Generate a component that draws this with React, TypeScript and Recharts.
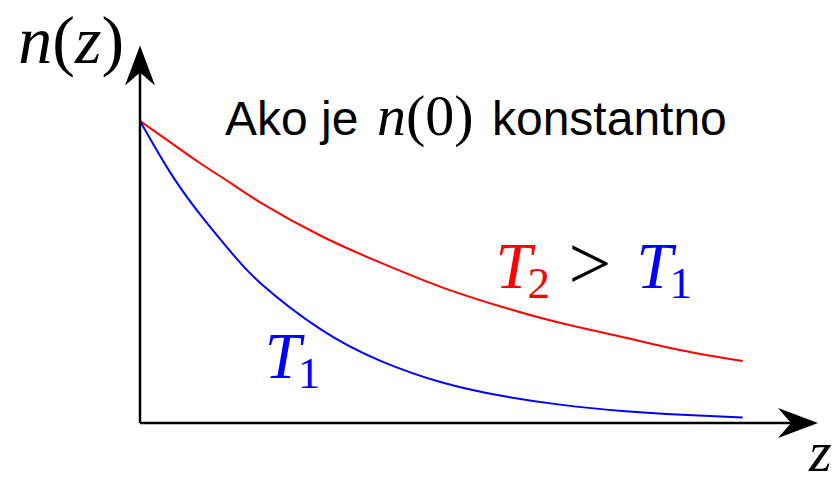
import { LineChart, Line, XAxis, YAxis, ReferenceLine, ReferenceDot } from "recharts";

// depth z (arbitrary units) and the two concentration profiles n(z)
const zValues = [0, 0.5, 1, 1.5, 2, 3, 4, 5, 6, 7, 8, 9, 10];
const nHot = [1.0, 0.93, 0.86, 0.795, 0.73, 0.62, 0.53, 0.45, 0.385, 0.33, 0.285, 0.24, 0.205]; // T2
const nCold = [1.0, 0.83, 0.69, 0.568, 0.463, 0.31, 0.205, 0.135, 0.09, 0.06, 0.04, 0.027, 0.018]; // T1

const data = zValues.map((z, i) => ({ z, hot: nHot[i], cold: nCold[i] }));

const X_MAX = 11.25;
const Y_MAX = 1.25;

const SERIF = "'Liberation Serif', 'Times New Roman', serif";
const SANS = "'Liberation Sans', Arial, sans-serif";

type Pt = { cx?: number; cy?: number };

const arrowRight = ({ cx = 0, cy = 0 }: Pt) => (
    <path d={`M${cx},${cy} L${cx - 40},${cy - 15} L${cx - 27},${cy} L${cx - 40},${cy + 15} Z`} fill="#000" />
);

const arrowUp = ({ cx = 0, cy = 0 }: Pt) => (
    <path d={`M${cx},${cy} L${cx - 15},${cy + 40} L${cx},${cy + 27} L${cx + 15},${cy + 40} Z`} fill="#000" />
);

const yTitle = ({ cx = 0, cy = 0 }: Pt) => (
    <text x={cx} y={cy} fontFamily={SERIF} fontSize={68} fill="#000">
        <tspan fontStyle="italic">n</tspan>
        <tspan>(</tspan>
        <tspan fontStyle="italic">z</tspan>
        <tspan>)</tspan>
    </text>
);

const xTitle = ({ cx = 0, cy = 0 }: Pt) => (
    <text x={cx} y={cy} fontFamily={SERIF} fontStyle="italic" fontSize={58} fill="#000">
        z
    </text>
);

const note = ({ cx = 0, cy = 0 }: Pt) => (
    <text y={cy} fontFamily={SANS} fontSize={48} fill="#000">
        <tspan x={cx}>Ako je</tspan>
        <tspan x={cx + 152} fontFamily={SERIF} fontStyle="italic" fontSize={58}>n</tspan>
        <tspan fontFamily={SERIF} fontSize={58}>(0)</tspan>
        <tspan x={cx + 267}>konstantno</tspan>
    </text>
);

const compare = ({ cx = 0, cy = 0 }: Pt) => (
    <text y={cy} fontFamily={SERIF} fontSize={65}>
        <tspan x={cx} fill="#ff0000" fontStyle="italic">T</tspan>
        <tspan x={cx + 32} fill="#ff0000" fontSize={45} dy={10}>2</tspan>
        <tspan x={cx + 73} fill="#000" fontSize={76} dy={-9}>&gt;</tspan>
        <tspan x={cx + 141} fill="#0000ff" fontStyle="italic" dy={-1}>T</tspan>
        <tspan x={cx + 174} fill="#0000ff" fontSize={45} dy={10}>1</tspan>
    </text>
);

const coldLabel = ({ cx = 0, cy = 0 }: Pt) => (
    <text y={cy} fontFamily={SERIF} fontSize={65} fill="#0000ff">
        <tspan x={cx} fontStyle="italic">T</tspan>
        <tspan x={cx + 33} fontSize={45} dy={10}>1</tspan>
    </text>
);

export default function App() {
    return (
        <div style={{ position: "absolute", left: 0, top: 0, width: 836, height: 477, background: "#fff" }}>
            <LineChart width={836} height={477} data={data} margin={{ top: 45.5, right: 18, bottom: 54, left: 140 }}>
                <XAxis type="number" dataKey="z" domain={[0, X_MAX]} hide />
                <YAxis type="number" domain={[0, Y_MAX]} hide />

                <Line type="natural" dataKey="hot" stroke="#ff0000" strokeWidth={2} dot={false} isAnimationActive={false} />
                <Line type="natural" dataKey="cold" stroke="#0000ff" strokeWidth={2} dot={false} isAnimationActive={false} />

                {/* axes with arrowheads */}
                <ReferenceLine segment={[{ x: 0, y: 0 }, { x: X_MAX - 0.4, y: 0 }]} stroke="#000" strokeWidth={2.5} ifOverflow="visible" />
                <ReferenceLine segment={[{ x: 0, y: 0 }, { x: 0, y: Y_MAX - 0.08 }]} stroke="#000" strokeWidth={2.5} ifOverflow="visible" />
                <ReferenceDot x={X_MAX} y={0} shape={arrowRight} ifOverflow="visible" />
                <ReferenceDot x={0} y={Y_MAX} shape={arrowUp} ifOverflow="visible" />

                {/* annotations */}
                <ReferenceDot x={-2.02} y={1.192} shape={yTitle} ifOverflow="visible" />
                <ReferenceDot x={11.1} y={-0.16} shape={xTitle} ifOverflow="visible" />
                <ReferenceDot x={1.41} y={0.954} shape={note} ifOverflow="visible" />
                <ReferenceDot x={5.9} y={0.447} shape={compare} ifOverflow="visible" />
                <ReferenceDot x={2.07} y={0.149} shape={coldLabel} ifOverflow="visible" />
            </LineChart>
        </div>
    );
}
